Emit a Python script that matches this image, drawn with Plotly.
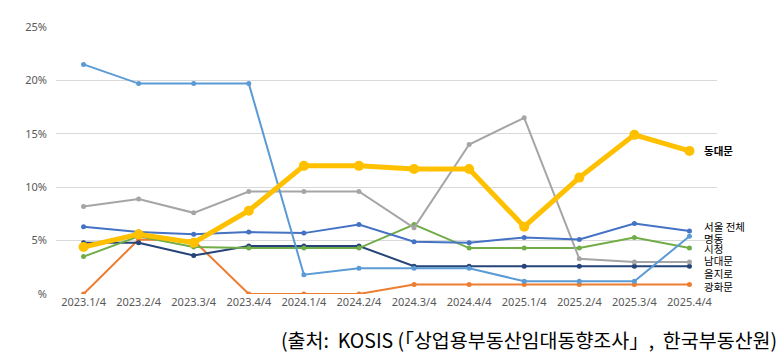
import plotly.graph_objects as go

quarters = ["2023.1/4", "2023.2/4", "2023.3/4", "2023.4/4", "2024.1/4", "2024.2/4",
            "2024.3/4", "2024.4/4", "2025.1/4", "2025.2/4", "2025.3/4", "2025.4/4"]

gwanghwamun = [0.0, 5.1, 5.0, 0.0, 0.0, 0.0, 0.9, 0.9, 0.9, 0.9, 0.9, 0.9]
euljiro = [4.8, 4.8, 3.6, 4.5, 4.5, 4.5, 2.6, 2.6, 2.6, 2.6, 2.6, 2.6]
sicheong = [3.5, 5.4, 4.4, 4.3, 4.3, 4.3, 6.5, 4.3, 4.3, 4.3, 5.3, 4.3]
namdaemun = [8.2, 8.9, 7.6, 9.6, 9.6, 9.6, 6.2, 14.0, 16.5, 3.3, 3.0, 3.0]
seoul = [6.3, 5.8, 5.6, 5.8, 5.7, 6.5, 4.9, 4.8, 5.3, 5.1, 6.6, 5.9]
myeongdong = [21.5, 19.7, 19.7, 19.7, 1.8, 2.4, 2.4, 2.4, 1.2, 1.2, 1.2, 5.4]
dongdaemun = [4.4, 5.6, 4.8, 7.8, 12.0, 12.0, 11.7, 11.7, 6.3, 10.9, 14.9, 13.4]

yticks = [0, 5, 10, 15, 20, 25]
yticktext = ["%", "5%", "10%", "15%", "20%", "25%"]

series = [
    ("광화문", gwanghwamun, "#ED7D31", 0.7),
    ("을지로", euljiro, "#264478", 1.95),
    ("시청", sicheong, "#70AD47", 4.3),
    ("남대문", namdaemun, "#A5A5A5", 3.1),
    ("서울 전체", seoul, "#4472C4", 6.3),
    ("명동", myeongdong, "#5B9BD5", 5.2),
]

fig = go.Figure()
for name, vals, color, ly in series:
    fig.add_trace(go.Scatter(x=quarters, y=vals, mode="lines+markers", name=name,
                             line=dict(color=color, width=2),
                             marker=dict(color=color, size=5)))
    fig.add_annotation(x=quarters[-1], y=ly, xref="x", yref="y", text=name,
                       showarrow=False, xanchor="left", xshift=13,
                       font=dict(size=10.5, color="#000000", family="Noto Sans CJK KR"))

fig.add_trace(go.Scatter(x=quarters, y=dongdaemun, mode="lines+markers", name="동대문",
                         line=dict(color="#FFC000", width=5),
                         marker=dict(color="#FFC000", size=10)))
fig.add_annotation(x=quarters[-1], y=13.45, xref="x", yref="y", text="<b>동대문</b>",
                   showarrow=False, xanchor="left", xshift=13,
                   font=dict(size=10.5, color="#000000", family="Noto Sans CJK KR"))

W, H, L, R, T, B = 776, 356, 48, 67, 11, 70
pw, ph = W - L - R, H - T - B
fig.add_annotation(x=(771 - L) / pw, y=(H - B - 333) / ph, xref="paper", yref="paper",
                   text="(출처:\u00a0\u00a0KOSIS\u00a0(「상업용부동산임대동향조사」,\u00a0\u00a0한국부동산원)",
                   showarrow=False, xanchor="right", yanchor="middle",
                   font=dict(size=19.5, color="#000000", family="Noto Sans CJK KR"))

fig.update_layout(
    width=W, height=H,
    margin=dict(l=L, r=R, t=T, b=B),
    paper_bgcolor="white", plot_bgcolor="white",
    showlegend=False,
    font=dict(family="Noto Sans", size=11, color="#595959"),
)

fig.update_xaxes(type="category", range=[-0.5, 11.5], showgrid=False, zeroline=False,
                 showline=False, ticks="", tickfont=dict(size=11, color="#595959"))
fig.update_yaxes(range=[0, 25], tickvals=yticks, ticktext=yticktext, showgrid=True,
                 gridcolor="#D9D9D9", gridwidth=1, zeroline=False, showline=False,
                 ticks="", tickfont=dict(size=11, color="#595959"), ticklabelstandoff=8)

fig.write_html("out.html")
